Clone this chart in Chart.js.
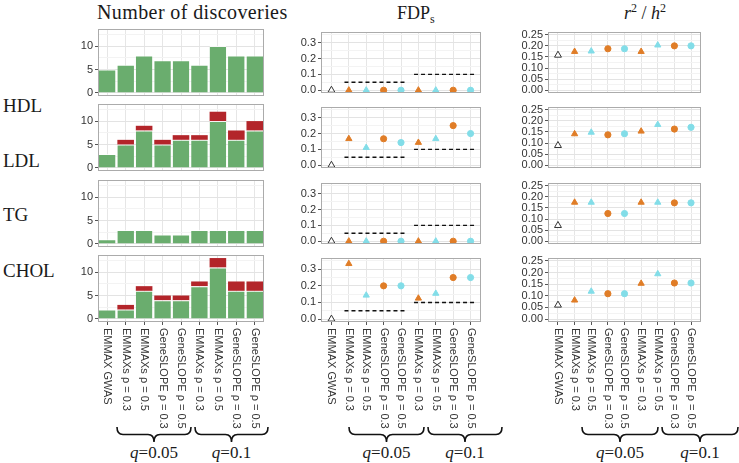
<!DOCTYPE html>
<html lang="en">
<head>
<meta charset="UTF-8">
<title>Number of discoveries, FDP and r2/h2</title>
<script src="https://cdn.jsdelivr.net/npm/chart.js"></script>
<style>
  html, body { margin: 0; padding: 0; background: #fff; }
  #fig { position: relative; width: 739px; height: 463px; overflow: hidden; font-family: "Liberation Serif", serif; color: #1a1a1a; }
  .panel { position: absolute; }
  .lbl { position: absolute; white-space: nowrap; }
  .title { font-size: 20px; line-height: 20px; }
  .row { font-size: 19px; line-height: 19px; left: 3px; }
  .q { font-size: 17px; line-height: 17px; top: 444px; transform: translateX(-50%); }
  #braces { position: absolute; left: 0; top: 0; }
</style>
</head>
<body>
<div id="fig">
  <div class="lbl title" style="left:97px; top:2px; letter-spacing:0.4px;">Number of discoveries</div>
  <div class="lbl title" style="left:397px; top:3px; font-size:18px;">FDP<span style="font-size:12px; position:relative; top:4px;">s</span></div>
  <div class="lbl title" style="left:624px; top:3px; font-size:18px;"><i>r</i><span style="font-size:12px; position:relative; top:-7px;">2</span> / <i>h</i><span style="font-size:12px; position:relative; top:-7px;">2</span></div>
  <svg id="braces" width="739" height="463"></svg>
</div>

<script>
// categories
const methods = ["EMMAX GWAS", "EMMAXs ρ = 0.3", "EMMAXs ρ = 0.5", "GeneSLOPE ρ = 0.3", "GeneSLOPE ρ = 0.5",
                 "EMMAXs ρ = 0.3", "EMMAXs ρ = 0.5", "GeneSLOPE ρ = 0.3", "GeneSLOPE ρ = 0.5"];
const traits = ["HDL", "LDL", "TG", "CHOL"];

// number of discoveries (true = green, false = red)
const hdlTrue  = [5, 6, 8, 7, 7, 6, 10, 8, 8];
const hdlFalse = [0, 0, 0, 0, 0, 0, 0, 0, 0];
const ldlTrue  = [3, 5, 8, 5, 6, 6, 10, 6, 8];
const ldlFalse = [0, 1, 1, 1, 1, 1, 2, 2, 2];
const tgTrue   = [1, 3, 3, 2, 2, 3, 3, 3, 3];
const tgFalse  = [0, 0, 0, 0, 0, 0, 0, 0, 0];
const cholTrue  = [2, 2, 6, 4, 4, 7, 11, 6, 6];
const cholFalse = [0, 1, 1, 1, 1, 1, 2, 2, 2];

// FDP_s
const fdpHDL  = [0, 0, 0, 0, 0, 0, 0, 0, 0];
const fdpLDL  = [0, 0.167, 0.111, 0.167, 0.143, 0.143, 0.167, 0.25, 0.2];
const fdpTG   = [0, 0, 0, 0, 0, 0, 0, 0, 0];
const fdpCHOL = [0, 0.333, 0.143, 0.2, 0.2, 0.125, 0.154, 0.25, 0.25];

// r^2 / h^2
const r2HDL  = [0.158, 0.174, 0.176, 0.187, 0.187, 0.174, 0.203, 0.200, 0.200];
const r2LDL  = [0.089, 0.141, 0.148, 0.137, 0.142, 0.153, 0.183, 0.163, 0.171];
const r2TG   = [0.071, 0.175, 0.175, 0.125, 0.125, 0.175, 0.175, 0.173, 0.173];
const r2CHOL = [0.060, 0.081, 0.119, 0.109, 0.109, 0.153, 0.194, 0.155, 0.155];

// nominal levels (dashed lines) and the methods they span
const qLevels = [0.05, 0.1];
const qSpans = [[1.75, 5.25], [5.75, 9.25]];
const qLabels = ["0.05", "0.1"];

// axis ticks
const discMajor = [0, 5, 10], discMinor = [2.5, 7.5, 12.5];
const fdpMajor = [0, 0.1, 0.2, 0.3], fdpMinor = [0.05, 0.15, 0.25, 0.35];
const r2Major = [0, 0.05, 0.1, 0.15, 0.2, 0.25], r2Minor = [0.025, 0.075, 0.125, 0.175, 0.225];

const trueCounts = [hdlTrue, ldlTrue, tgTrue, cholTrue];
const falseCounts = [hdlFalse, ldlFalse, tgFalse, cholFalse];
const fdpRows = [fdpHDL, fdpLDL, fdpTG, fdpCHOL];
const r2Rows = [r2HDL, r2LDL, r2TG, r2CHOL];

const GREEN = "#6aad6e", RED = "#b3252a", ORANGE = "#e07d27", CYAN = "#82dde8";
const ptStyle = ["triangle", "triangle", "triangle", "circle", "circle", "triangle", "triangle", "circle", "circle"];
const ptFill = ["#ffffff", ORANGE, CYAN, ORANGE, CYAN, ORANGE, CYAN, ORANGE, CYAN];
const ptLine = ["#333333", ORANGE, CYAN, ORANGE, CYAN, ORANGE, CYAN, ORANGE, CYAN];
const ptRad = [4, 3.6, 3.6, 3.1, 3.1, 3.6, 3.6, 3.1, 3.1];

// layout
const colLeft = [98, 321, 548], colWidth = [166, 163, 156];
const rowTop = [29, 104, 180, 255], rowH = 67;
const rowLabelY = [106, 161, 215, 271];
const AXW = 50, PAD = 2, XLAB = 110;

const fig = document.getElementById("fig");

traits.forEach((t, r) => {
  const d = document.createElement("div");
  d.className = "lbl row";
  d.style.top = (rowLabelY[r] - 10) + "px";
  d.textContent = t;
  fig.appendChild(d);
});

const near = (a, list) => list.some(v => Math.abs(v - a) < 1e-9);

const framePlugin = {
  id: "frame",
  afterDraw(chart) {
    const a = chart.chartArea, ctx = chart.ctx;
    ctx.save();
    ctx.strokeStyle = "#ababab";
    ctx.lineWidth = 1;
    ctx.strokeRect(Math.round(a.left) + 0.5, Math.round(a.top) + 0.5, Math.round(a.right - a.left) - 1, Math.round(a.bottom - a.top) - 1);
    ctx.restore();
  }
};

const xLabelPlugin = {
  id: "xlabels",
  afterDraw(chart) {
    if (!chart.options.plugins.xlabels.show) return;
    const s = chart.scales.x, ctx = chart.ctx;
    ctx.save();
    ctx.font = "11px 'Liberation Sans', Arial, sans-serif";
    ctx.fillStyle = "#333333";
    ctx.textAlign = "left";
    ctx.textBaseline = "middle";
    methods.forEach((m, i) => {
      ctx.save();
      ctx.translate(s.getPixelForTick(i), chart.chartArea.bottom + 6);
      ctx.rotate(Math.PI / 2);
      ctx.fillText(m, 0, 0);
      ctx.restore();
    });
    ctx.restore();
  }
};

function yAxis(min, max, major, minor, fmt) {
  const all = major.concat(minor).sort((a, b) => a - b);
  return {
    min: min, max: max,
    afterBuildTicks: s => { s.ticks = all.map(v => ({ value: v })); },
    afterFit: s => { s.width = AXW; s.paddingTop = 0; s.paddingBottom = 0; },
    ticks: {
      autoSkip: false, padding: 2, color: "#333333",
      font: { family: "'Liberation Sans', Arial, sans-serif", size: 11 },
      callback: v => near(v, major) ? fmt(v) : ""
    },
    grid: {
      color: c => near(c.tick.value, major) ? "#e3e3e3" : "#f3f3f3",
      tickColor: c => near(c.tick.value, major) ? "#555555" : "rgba(0,0,0,0)",
      tickLength: 3, lineWidth: 1
    },
    border: { display: false }
  };
}

function xGrid(bottom) {
  return { color: "#e6e6e6", drawTicks: bottom, tickLength: 3, tickColor: "#555555", offset: false };
}

function makePanel(col, row, config) {
  const bottom = row === 3;
  const d = document.createElement("div");
  d.className = "panel";
  d.style.left = (colLeft[col] - AXW) + "px";
  d.style.top = (rowTop[row] - PAD) + "px";
  d.style.width = (AXW + colWidth[col] + PAD) + "px";
  d.style.height = (PAD + rowH + (bottom ? XLAB : PAD)) + "px";
  const c = document.createElement("canvas");
  d.appendChild(c);
  fig.appendChild(d);
  config.options.responsive = true;
  config.options.maintainAspectRatio = false;
  config.options.animation = false;
  config.options.layout = { padding: { left: 0, top: PAD, right: PAD, bottom: bottom ? 0 : PAD } };
  config.options.plugins = { legend: { display: false }, tooltip: { enabled: false }, xlabels: { show: bottom } };
  config.plugins = [framePlugin, xLabelPlugin];
  return new Chart(c, config);
}

for (let r = 0; r < 4; r++) {
  const bottom = r === 3;
  const xFit = s => { s.height = bottom ? XLAB : 0; };

  // number of discoveries
  makePanel(0, r, {
    type: "bar",
    data: {
      labels: methods,
      datasets: [
        { data: trueCounts[r], backgroundColor: GREEN, borderColor: "rgba(255,255,255,0.75)", borderWidth: { top: 1, left: 0, right: 0, bottom: 0 }, borderSkipped: false },
        { data: falseCounts[r], backgroundColor: RED, borderWidth: 0 }
      ]
    },
    options: {
      scales: {
        x: { stacked: true, offset: true, ticks: { display: false }, grid: xGrid(bottom), border: { display: false }, afterFit: xFit },
        y: Object.assign(yAxis(-0.65, 13.65, discMajor, discMinor, v => String(v)), { stacked: true })
      },
      datasets: { bar: { categoryPercentage: 1, barPercentage: 0.9 } }
    }
  });

  const pointSet = vals => ({
    data: vals.map((v, i) => ({ x: i + 1, y: v })),
    pointStyle: ptStyle, backgroundColor: ptFill, borderColor: ptLine,
    pointRadius: ptRad, borderWidth: 1, showLine: false
  });
  const xLin = {
    type: "linear", min: 0.4, max: 9.6,
    afterBuildTicks: s => { s.ticks = methods.map((m, i) => ({ value: i + 1 })); },
    ticks: { display: false }, grid: xGrid(bottom), border: { display: false }, afterFit: xFit
  };

  // FDP_s
  const dashSets = qLevels.map((q, k) => ({
    data: [{ x: qSpans[k][0], y: q }, { x: qSpans[k][1], y: q }],
    showLine: true, borderColor: "#111111", borderWidth: 1.4, borderDash: [4, 3], pointRadius: 0
  }));
  makePanel(1, r, {
    type: "scatter",
    data: { datasets: dashSets.concat([pointSet(fdpRows[r])]) },
    options: {
      scales: { x: Object.assign({}, xLin), y: yAxis(-0.0175, 0.3675, fdpMajor, fdpMinor, v => v.toFixed(1)) }
    }
  });

  // r^2 / h^2
  makePanel(2, r, {
    type: "scatter",
    data: { datasets: [pointSet(r2Rows[r])] },
    options: {
      scales: { x: Object.assign({}, xLin), y: yAxis(-0.0125, 0.2625, r2Major, r2Minor, v => v.toFixed(2)) }
    }
  });
}

// braces with q labels under each group of methods
const braceSpans = [[117, 191], [195, 268], [349, 424], [428, 502], [582, 658], [662, 738]];
const svg = document.getElementById("braces");
const y0 = 427, h = 15;
braceSpans.forEach((b, i) => {
  const x1 = b[0], x2 = b[1], xm = (x1 + x2) / 2, ym = y0 + h / 2, k = 6;
  const p = document.createElementNS("http://www.w3.org/2000/svg", "path");
  p.setAttribute("d",
    `M ${x1} ${y0} Q ${x1} ${ym} ${x1 + k} ${ym} L ${xm - k} ${ym} Q ${xm} ${ym} ${xm} ${y0 + h} ` +
    `Q ${xm} ${ym} ${xm + k} ${ym} L ${x2 - k} ${ym} Q ${x2} ${ym} ${x2} ${y0}`);
  p.setAttribute("fill", "none");
  p.setAttribute("stroke", "#111");
  p.setAttribute("stroke-width", "1.6");
  svg.appendChild(p);
  const t = document.createElement("div");
  t.className = "lbl q";
  t.style.left = xm + "px";
  t.innerHTML = "<i>q</i>=" + qLabels[i % 2];
  fig.appendChild(t);
});
</script>
</body>
</html>
